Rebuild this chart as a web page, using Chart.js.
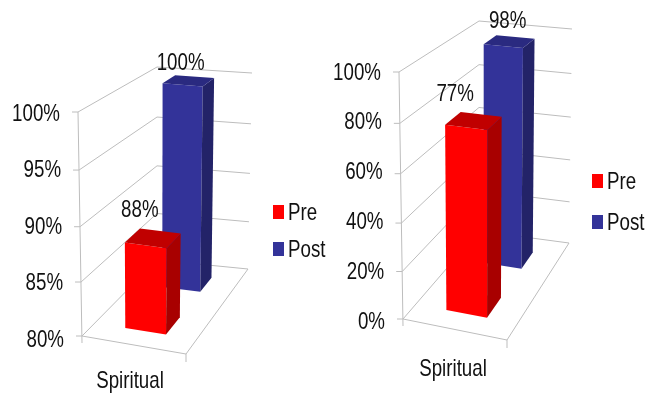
<!DOCTYPE html>
<html>
<head>
<meta charset="utf-8">
<title>Spiritual pre and post</title>
<script src="https://cdn.jsdelivr.net/npm/chart.js@4"></script>
<style>
    html, body { margin: 0; padding: 0; background: #fff; }
    .panel { position: absolute; top: 0; width: 329px; height: 396px; }
    .panel canvas { position: absolute; left: 0; top: 0; }
    .legend-row { position: absolute; display: flex; align-items: center; height: 24px;
        font: 24px "Liberation Sans", sans-serif; color: #111; }
    .legend-box { display: inline-block; width: 11px; height: 14px; margin-right: 4px; }
    .legend-text { display: inline-block; transform: scaleX(0.78); transform-origin: left center; }
</style>
</head>
<body>
<div class="panel" style="left:0"><canvas id="chart-left" width="329" height="396"></canvas></div>
<div class="panel" style="left:330px"><canvas id="chart-right" width="328" height="396"></canvas></div>
<script>
const categories = ["Spiritual"];
const seriesNames = ["Pre", "Post"];
const leftValues = [88, 100];
const rightValues = [77, 98];

const FONT = '24px "Liberation Sans", sans-serif';
const TEXT_SQUEEZE = 0.78;
const GRID = "#bdbdbd";

// fill colours per series: front, top, side
const FACES = [
    { front: "#ff0000", top: "#c00000", side: "#a80000" },
    { front: "#333399", top: "#2a2a80", side: "#232368" },
];

// bar footprints on the floor, as fractions of width and depth
const BAR_U = [0.3, 0.7];
const BAR_W = [[0.17, 0.38], [0.69, 0.86]];

// slight foreshortening of the height axis
function warp(t) {
    return t / (t + 1.05 * (1 - t));
}

function bilinear(c, u, w) {
    const [a, b, d, e] = c; // front-left, front-right, back-right, back-left
    const mix = (i) =>
        (1 - u) * (1 - w) * a[i] + u * (1 - w) * b[i] + u * w * d[i] + (1 - u) * w * e[i];
    return [mix(0), mix(1)];
}

function polygon(ctx, points, fill) {
    ctx.beginPath();
    points.forEach((p, i) => (i ? ctx.lineTo(p[0], p[1]) : ctx.moveTo(p[0], p[1])));
    ctx.closePath();
    ctx.fillStyle = fill;
    ctx.fill();
}

function segment(ctx, a, b) {
    ctx.beginPath();
    ctx.moveTo(a[0], a[1]);
    ctx.lineTo(b[0], b[1]);
    ctx.stroke();
}

// the chart's lettering is tall and narrow, so it is squeezed horizontally
function narrowText(ctx, text, x, y, align) {
    ctx.save();
    ctx.translate(x, y);
    ctx.scale(TEXT_SQUEEZE, 1);
    ctx.fillStyle = "#111";
    ctx.font = FONT;
    ctx.textAlign = align;
    ctx.textBaseline = "middle";
    ctx.fillText(text, 0, 0);
    ctx.restore();
}

// draws walls, floor and solid bars instead of the flat bars
const boxPlugin = {
    id: "box3d",
    beforeDatasetsDraw(chart, args, opts) {
        const ctx = chart.ctx;
        const y = chart.scales.y;
        const x = chart.scales.x;
        const project = (u, w, v) => {
            const t = warp((y.bottom - y.getPixelForValue(v)) / (y.bottom - y.top));
            const lo = bilinear(opts.floor, u, w);
            const hi = bilinear(opts.ceil, u, w);
            return [lo[0] + (hi[0] - lo[0]) * t, lo[1] + (hi[1] - lo[1]) * t];
        };

        ctx.save();
        ctx.strokeStyle = GRID;
        ctx.lineWidth = 1;
        y.ticks.forEach((tick) => {
            const front = project(0, 0, tick.value);
            const corner = project(0, 1, tick.value);
            segment(ctx, [front[0] - 6, front[1]], front);
            segment(ctx, front, corner);
            segment(ctx, corner, project(1, 1, tick.value));
        });
        const floorFL = project(0, 0, y.min);
        const floorFR = project(1, 0, y.min);
        const floorBR = project(1, 1, y.min);
        segment(ctx, project(0, 0, y.max), [floorFL[0], floorFL[1] + 7]);
        segment(ctx, floorFL, floorFR);
        segment(ctx, floorFR, [floorFR[0], floorFR[1] + 8]);
        segment(ctx, floorFR, floorBR);

        // back series first so the front one overlaps it
        for (let i = chart.data.datasets.length - 1; i >= 0; i--) {
            const v = chart.data.datasets[i].data[0];
            const [u0, u1] = BAR_U;
            const [w0, w1] = BAR_W[i];
            const base = y.min;
            polygon(ctx, [project(u0, w0, base), project(u1, w0, base), project(u1, w0, v), project(u0, w0, v)], FACES[i].front);
            polygon(ctx, [project(u1, w0, base), project(u1, w1, base), project(u1, w1, v), project(u1, w0, v)], FACES[i].side);
            polygon(ctx, [project(u0, w0, v), project(u1, w0, v), project(u1, w1, v), project(u0, w1, v)], FACES[i].top);
        }

        // tick labels lean with the front edge of the wall
        y.ticks.forEach((tick) => {
            const front = project(0, 0, tick.value);
            narrowText(ctx, tick.label, front[0] - 18, y.getPixelForValue(tick.value), "right");
        });
        narrowText(ctx, categories[0], x.getPixelForTick(0), y.bottom + opts.categoryGap, "center");

        chart.data.datasets.forEach((ds, i) => {
            const anchor = project(BAR_U[0], BAR_W[i][0], ds.data[0]);
            const [dx, dy] = opts.labelOffsets[i];
            narrowText(ctx, ds.data[0] + "%", anchor[0] + dx, anchor[1] + dy, "center");
        });
        ctx.restore();
        return false;
    },
};

function makeChart(canvasId, values, cfg) {
    const canvas = document.getElementById(canvasId);
    const chart = new Chart(canvas, {
        type: "bar",
        data: {
            labels: categories,
            datasets: seriesNames.map((name, i) => ({
                label: name,
                data: [values[i]],
                backgroundColor: FACES[i].front,
            })),
        },
        plugins: [boxPlugin],
        options: {
            responsive: false,
            animation: false,
            layout: { padding: { left: 0, right: cfg.paddingRight, top: cfg.top, bottom: 0 } },
            plugins: {
                legend: { display: false },
                tooltip: { enabled: false },
                box3d: {
                    floor: cfg.floor,
                    ceil: cfg.ceil,
                    labelOffsets: cfg.labelOffsets,
                    categoryGap: cfg.categoryGap,
                },
            },
            scales: {
                x: {
                    grid: { display: false, drawTicks: false },
                    border: { display: false },
                    ticks: { display: false },
                    afterFit: (scale) => { scale.height = cfg.xHeight; },
                },
                y: {
                    min: cfg.min,
                    max: cfg.max,
                    grid: { display: false, drawTicks: false },
                    border: { display: false },
                    ticks: {
                        display: false,
                        stepSize: cfg.step,
                        callback: (v) => v + "%",
                    },
                    afterFit: (scale) => { scale.width = cfg.yWidth; },
                },
            },
        },
    });

    // html legend next to the chart
    chart.data.datasets.forEach((ds, i) => {
        const row = document.createElement("div");
        row.className = "legend-row";
        row.style.left = cfg.legendX + "px";
        row.style.top = cfg.legendY[i] - 12 + "px";
        const box = document.createElement("span");
        box.className = "legend-box";
        box.style.background = ds.backgroundColor;
        const label = document.createElement("span");
        label.className = "legend-text";
        label.textContent = ds.label;
        row.appendChild(box);
        row.appendChild(label);
        canvas.parentNode.appendChild(row);
    });
    return chart;
}

makeChart("chart-left", leftValues, {
    min: 80, max: 100, step: 5,
    top: 114, yWidth: 70, paddingRight: 139, xHeight: 56, categoryGap: 41,
    floor: [[82, 336], [186, 354], [248, 269], [157, 260]],
    ceil: [[78, 112], [190, 124], [252, 73], [157, 67]],
    labelOffsets: [[15, -32], [18, -20]],
    legendX: 273, legendY: [212, 249],
});

makeChart("chart-right", rightValues, {
    min: 0, max: 100, step: 20,
    top: 73, yWidth: 62, paddingRight: 144, xHeight: 74, categoryGap: 47,
    floor: [[73, 319], [177, 340], [239, 243], [149, 231]],
    ceil: [[69, 72], [179, 84], [242, 29], [149, 21]],
    labelOffsets: [[10, -30], [24, -23]],
    legendX: 262, legendY: [181, 222],
});
</script>
</body>
</html>
